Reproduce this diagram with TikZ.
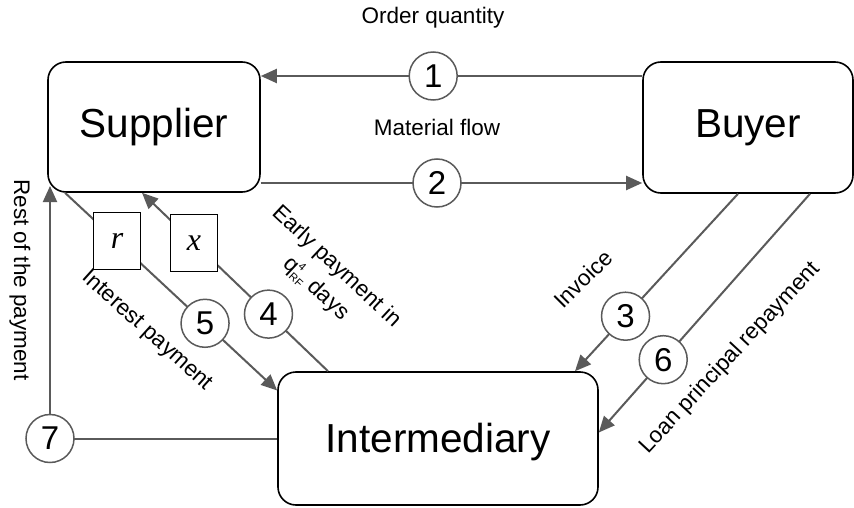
\documentclass[tikz,border=0pt]{standalone}
\usepackage{fontspec}
\setmainfont{Liberation Sans}
\newfontfamily\serf{Liberation Serif}
\usetikzlibrary{arrows.meta,calc}
\definecolor{linegray}{HTML}{5A5A5A}
\newcommand\qrf{q\makebox[0pt][l]{\raisebox{9pt}{\fontsize{11}{11}\selectfont 4}}\raisebox{-5pt}{\fontsize{11}{11}\selectfont RF}}
\begin{document}
\begin{tikzpicture}[x=1pt,y=-1pt,
 box/.style={draw=black,line width=1.6pt,rounded corners=18pt,fill=white,font=\fontsize{40.5}{48}\selectfont},
 circ/.style={circle,draw=linegray,line width=1.5pt,fill=white,minimum size=48pt,inner sep=0pt,font=\fontsize{33}{33}\selectfont},
 var/.style={draw=black,line width=1.5pt,fill=white,minimum width=47pt,minimum height=57pt,inner sep=0pt,font=\serf\itshape\fontsize{32}{32}\selectfont},
 arr/.style={draw=linegray,line width=2pt,-{Triangle[length=16pt,width=14pt]}},
 lbl/.style={font=\fontsize{22.5}{27}\selectfont,inner sep=0pt}
]
\useasboundingbox (0,0) rectangle (854,508);
\node[box,minimum width=212pt,minimum height=130pt] (sup) at (154,127) {Supplier};
\node[box,minimum width=210pt,minimum height=131pt] (buy) at (748,127.5) {Buyer};
\node[box,minimum width=320pt,minimum height=133pt,text depth=2pt] (int) at (438,438.5) {Intermediary};
\coordinate (r7) at (50,186);

\draw[arr] (buy.west |- 0,76) -- node[circ,pos=0.548] (c1) {1} (sup.east |- 0,76);
\draw[arr] (sup.east |- 0,183) -- node[circ,pos=0.462] (c2) {2} (buy.west |- 0,183);
\draw[arr] ([xshift=-10pt]buy.south) -- node[circ,pos=0.69] (c3) {3} ([xshift=137pt]int.north);
\draw[arr] ([xshift=62pt]buy.south) -- node[circ,pos=0.695] (c6) {6} ([yshift=6pt]int.east);
\draw[arr] ([xshift=-110pt]int.north) -- node[circ,pos=0.32] (c4) {4} node[var,pos=0.72] (vx) {x} ([xshift=-12pt]sup.south);
\draw[arr] ([xshift=-89pt]sup.south) -- node[var,pos=0.245] (vr) {r} node[circ,pos=0.66] (c5) {5} ([yshift=48pt]int.west);
\draw[arr] (int.west) -| node[circ] (c7) {7} (r7);

\node[lbl] (lq) at (433,18) {Order quantity};
\node[lbl] (lm) at (437,127) {Material flow};
\node[lbl,rotate=-90] (lr) at (20,280) {Rest of the payment};
\node[lbl,rotate=45] (li) at (583,279) {Invoice};
\node[lbl,rotate=47] (ll) at (730,358) {Loan principal repayment};
\node[lbl,rotate=-42] (lip) at (147,331) {Interest payment};
\node[lbl,rotate=-43,align=center] (le) at (326,278) {Early payment in\\[3pt] \qrf\ days};
\end{tikzpicture}
\end{document}
